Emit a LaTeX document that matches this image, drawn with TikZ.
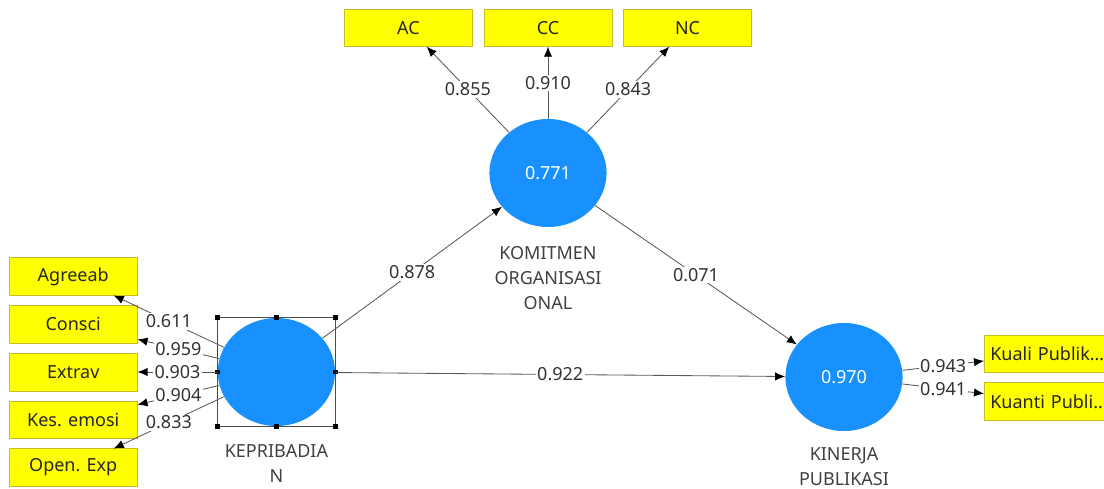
\documentclass[tikz,border=0pt]{standalone}
\usepackage{fontspec}
\setmainfont{Noto Sans}
\usetikzlibrary{arrows.meta, positioning, shapes.geometric}
\definecolor{latentblue}{RGB}{24,145,255}
\definecolor{indyellow}{RGB}{255,255,0}
\definecolor{indborder}{RGB}{196,190,40}

\begin{document}
\begin{tikzpicture}[
    every node/.style={font=\fontsize{12.8}{17.8}\selectfont},
    latent/.style={ellipse, fill=latentblue, minimum width=2.93cm, minimum height=2.7cm, inner sep=0, text=white},
    ind/.style={rectangle, draw=indborder, fill=indyellow, minimum width=3.2cm, minimum height=0.94cm, inner sep=0, text=black!85},
    indl/.style={ind, text width=2.9cm, align=left, inner xsep=0.15cm},
    lvname/.style={align=center, inner sep=0, text=black!75},
    coef/.style={fill=white, inner sep=1pt, text=black!80},
    arrow/.style={-{Latex[length=2.5mm, width=2.1mm, black]}, draw=black!65, line width=0.6pt},
    selbox/.style={draw=black!70, line width=0.6pt},
    handle/.style={rectangle, fill=black, minimum size=0.12cm, inner sep=0}
]
\useasboundingbox (0,0) rectangle (27.6,-12.2);
\clip (0,0) rectangle (27.6,-12.2);

% --- Latent variables ---
\node[latent] (kep) at (6.91,-9.30) {};
\node[latent] (kom) at (13.70,-4.325) {0.771};
\node[latent] (kin) at (21.10,-9.425) {0.970};

\node[lvname, below=0.45cm of kep] (kepname) {KEPRIBADIA\\N};
\node[lvname, below=0.48cm of kom] (komname) {KOMITMEN\\ORGANISASI\\ONAL};
\node[lvname, below=0.40cm of kin] (kinname) {KINERJA\\PUBLIKASI};

% selection frame round KEPRIBADIAN
\draw[selbox] (kep.west |- kep.north) rectangle (kep.east |- kep.south);
\foreach \p in {{kep.west |- kep.north}, {kep.north}, {kep.east |- kep.north}, {kep.east},
                {kep.east |- kep.south}, {kep.south}, {kep.west |- kep.south}, {kep.west}}
    \node[handle] at (\p) {};

% --- Indicators ---
\node[ind, above=1.8cm of kom] (cc) {CC};
\node[ind, left=0.275cm of cc] (ac) {AC};
\node[ind, right=0.275cm of cc] (nc) {NC};

\node[ind, left=2cm of kep] (extrav) {Extrav};
\node[ind, above=0.24cm of extrav] (consci) {Consci};
\node[ind, above=0.24cm of consci] (agree) {Agreeab};
\node[ind, below=0.24cm of extrav] (kesemo) {Kes. emosi};
\node[ind, below=0.24cm of kesemo] (openexp) {Open. Exp};

\node[indl, anchor=west] (kuali) at (24.6,-8.84) {\mbox{Kuali Publik…}};
\node[indl, below=0.24cm of kuali] (kuanti) {\mbox{Kuanti Publi…}};

% --- Outer loadings ---
\draw[arrow] (kom) -- node[coef] {0.855} (ac);
\draw[arrow] (kom) -- node[coef] {0.910} (cc);
\draw[arrow] (kom) -- node[coef] {0.843} (nc);

\draw[arrow] (kep) -- node[coef] {0.611} (agree);
\draw[arrow] (kep) -- node[coef] {0.959} (consci);
\draw[arrow] (kep) -- node[coef] {0.903} (extrav);
\draw[arrow] (kep) -- node[coef] {0.904} (kesemo);
\draw[arrow] (kep) -- node[coef] {0.833} (openexp);

\draw[arrow] (kin) -- node[coef] {0.943} (kuali);
\draw[arrow] (kin) -- node[coef] {0.941} (kuanti);

% --- Path coefficients ---
\draw[arrow] (kep) -- node[coef] {0.878} (kom);
\draw[arrow] (kom) -- node[coef] {0.071} (kin);
\draw[arrow] (kep) -- node[coef] {0.922} (kin);
\end{tikzpicture}
\end{document}
